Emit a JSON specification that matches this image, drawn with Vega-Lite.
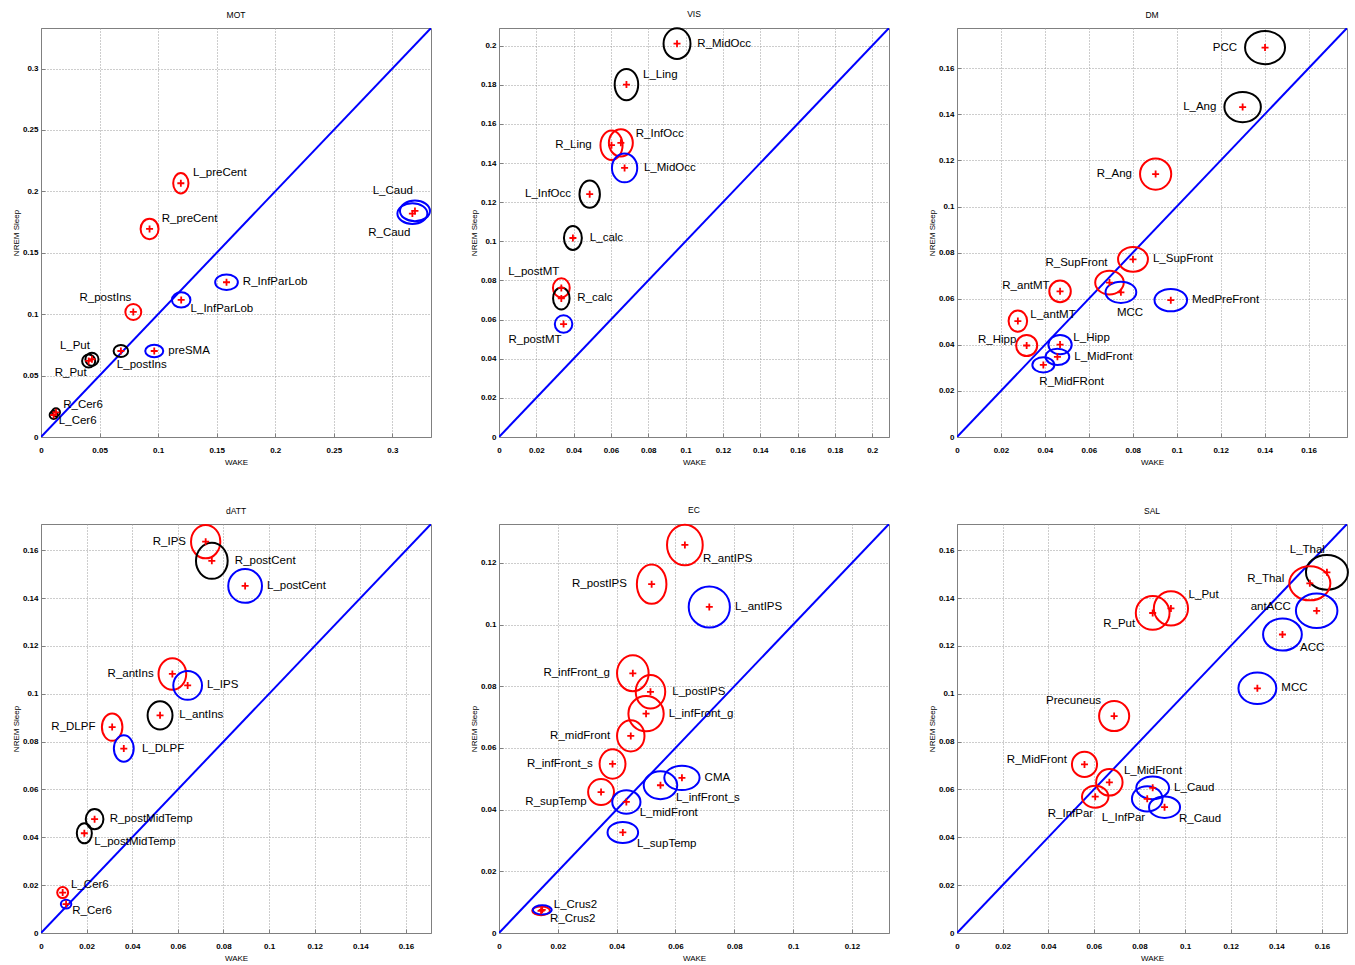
{
  "$schema": "https://vega.github.io/schema/vega-lite/v6.json",
  "background": "white",
  "padding": {"left": 11, "top": 9, "right": 5, "bottom": 5},
  "columns": 3,
  "spacing": {"row": 87, "column": 68},
  "bounds": "flush",
  "resolve": {"scale": {"size": "independent"}},
  "config": {
    "font": "Liberation Sans",
    "view": {"stroke": "#808080", "strokeWidth": 1},
    "axis": {"labelFontSize": 8, "labelFont": "Liberation Sans", "labelColor": "#000", "labelFontWeight": "bold", "titleFont": "Liberation Sans", "titleFontSize": 8, "titleFontWeight": "normal", "titleColor": "#000", "domainColor": "#808080", "tickColor": "#808080", "tickSize": -4, "gridColor": "#9a9a9a", "gridDash": [1, 2], "gridWidth": 1, "labelFlush": false, "format": ".2~f"},
    "axisX": {"labelPadding": 13, "titlePadding": 4},
    "axisY": {"labelPadding": 7, "titlePadding": 2},
    "title": {"fontSize": 8.5, "fontWeight": "normal", "color": "#000", "offset": 9, "font": "Liberation Sans", "frame": "group"},
    "text": {"font": "Liberation Sans", "fontSize": 11.5, "color": "#000", "baseline": "middle", "clip": true},
    "point": {"opacity": 1, "strokeJoin": "round", "strokeCap": "butt", "clip": true}
  },
  "concat": [
    {
      "title": "MOT", "width": 390, "height": 409,
      "data": {"values": [
        {"region": "L_preCent", "wake": 0.1194, "nrem": 0.2066, "r": 0.0087, "aspect": 0.75, "cluster": "1", "place": "NE"},
        {"region": "R_preCent", "wake": 0.0927, "nrem": 0.1694, "r": 0.0087, "aspect": 0.88, "cluster": "1", "place": "NE"},
        {"region": "R_postIns", "wake": 0.0788, "nrem": 0.1018, "r": 0.0068, "aspect": 1, "cluster": "1", "place": "NL"},
        {"region": "L_InfParLob", "wake": 0.1197, "nrem": 0.1116, "r": 0.0079, "aspect": 1.2, "cluster": "3", "place": "SE"},
        {"region": "R_InfParLob", "wake": 0.1584, "nrem": 0.1260, "r": 0.0097, "aspect": 1.45, "cluster": "3", "place": "E"},
        {"region": "preSMA", "wake": 0.0967, "nrem": 0.0700, "r": 0.0077, "aspect": 1.45, "cluster": "3", "place": "E"},
        {"region": "L_postIns", "wake": 0.0682, "nrem": 0.0700, "r": 0.0062, "aspect": 1.2, "cluster": "2", "place": "SR"},
        {"region": "L_Put", "wake": 0.0435, "nrem": 0.0633, "r": 0.0056, "aspect": 1, "cluster": "2", "place": "NL"},
        {"region": "R_Put", "wake": 0.0407, "nrem": 0.0619, "r": 0.0056, "aspect": 1, "cluster": "2", "place": "SL"},
        {"region": "R_Cer6", "wake": 0.0128, "nrem": 0.0201, "r": 0.0034, "aspect": 1, "cluster": "2", "place": "NE"},
        {"region": "L_Cer6", "wake": 0.0108, "nrem": 0.0179, "r": 0.0034, "aspect": 1, "cluster": "2", "place": "SE"},
        {"region": "L_Caud", "wake": 0.3193, "nrem": 0.1841, "r": 0.0128, "aspect": 1.45, "cluster": "3", "place": "NL"},
        {"region": "R_Caud", "wake": 0.3171, "nrem": 0.1819, "r": 0.0128, "aspect": 1.45, "cluster": "3", "place": "SL"}
      ]},
      "encoding": {
        "x": {"field": "wake", "type": "quantitative", "scale": {"domain": [0, 0.333], "nice": false}, "axis": {"title": "WAKE", "values": [0, 0.05, 0.1, 0.15, 0.2, 0.25, 0.3]}},
        "y": {"field": "nrem", "type": "quantitative", "scale": {"domain": [0, 0.333], "nice": false}, "axis": {"title": "NREM Sleep", "values": [0, 0.05, 0.1, 0.15, 0.2, 0.25, 0.3]}}
      },
      "layer": [
        {"data": {"values": [{"wake": 0, "nrem": 0}, {"wake": 0.333, "nrem": 0.333}]}, "mark": {"type": "line", "color": "#0000ff", "strokeWidth": 2, "clip": true}},
        {"mark": {"type": "point", "filled": false, "strokeWidth": 2},
         "encoding": {
           "color": {"field": "cluster", "type": "nominal", "scale": {"domain": ["1", "2", "3"], "range": ["#ff0000", "#000000", "#0000ff"]}, "legend": null},
           "size": {"field": "r", "type": "quantitative", "scale": {"type": "pow", "exponent": 2, "domain": [0, 0.0333], "range": [0, 6084]}, "legend": null},
           "shape": {"field": "aspect", "type": "nominal", "scale": {"domain": [0.75, 0.88, 1, 1.2, 1.45, 2], "range": ["M-0.75,0A0.75,1,0,1,0,0.75,0A0.75,1,0,1,0,-0.75,0Z", "M-0.88,0A0.88,1,0,1,0,0.88,0A0.88,1,0,1,0,-0.88,0Z", "circle", "M-1,0A1,0.83,0,1,0,1,0A1,0.83,0,1,0,-1,0Z", "M-1,0A1,0.69,0,1,0,1,0A1,0.69,0,1,0,-1,0Z", "M-1,0A1,0.5,0,1,0,1,0A1,0.5,0,1,0,-1,0Z"]}, "legend": null}
         }},
        {"mark": {"type": "point", "shape": "M-1,0L1,0M0,-1L0,1", "size": 49, "filled": false, "color": "#ff0000", "strokeWidth": 1.8}},
        {"transform": [{"filter": "datum.place === 'E'"}], "mark": {"type": "text", "align": "left", "dx": {"expr": "5 + datum.r * 1171"}}, "encoding": {"text": {"field": "region"}}},
        {"transform": [{"filter": "datum.place === 'NE'"}], "mark": {"type": "text", "align": "left", "dx": {"expr": "4 + 0.8 * datum.r * 1171"}, "dy": {"expr": "-5 - 0.5 * datum.r * 1171"}}, "encoding": {"text": {"field": "region"}}},
        {"transform": [{"filter": "datum.place === 'NL'"}], "mark": {"type": "text", "align": "right", "dx": -2, "dy": {"expr": "-8 - 0.8 * datum.r * 1171"}}, "encoding": {"text": {"field": "region"}}},
        {"transform": [{"filter": "datum.place === 'SL'"}], "mark": {"type": "text", "align": "right", "dx": -2, "dy": {"expr": "7 + 0.8 * datum.r * 1171"}}, "encoding": {"text": {"field": "region"}}},
        {"transform": [{"filter": "datum.place === 'SE'"}], "mark": {"type": "text", "align": "left", "dx": {"expr": "2 + 0.8 * datum.r * 1171"}, "dy": {"expr": "4 + 0.5 * datum.r * 1171"}}, "encoding": {"text": {"field": "region"}}},
        {"transform": [{"filter": "datum.place === 'SR'"}], "mark": {"type": "text", "align": "left", "dx": -4, "dy": {"expr": "8 + 0.8 * datum.r * 1171"}}, "encoding": {"text": {"field": "region"}}}
      ]
    },
    {
      "title": "VIS", "width": 390, "height": 409,
      "data": {"values": [
        {"region": "R_MidOcc", "wake": 0.0954, "nrem": 0.2010, "r": 0.0082, "aspect": 0.88, "cluster": "2", "place": "E"},
        {"region": "L_Ling", "wake": 0.0683, "nrem": 0.1801, "r": 0.0084, "aspect": 0.75, "cluster": "2", "place": "NE"},
        {"region": "R_Ling", "wake": 0.0603, "nrem": 0.1491, "r": 0.0079, "aspect": 0.75, "cluster": "1", "place": "W"},
        {"region": "R_InfOcc", "wake": 0.0653, "nrem": 0.1503, "r": 0.0073, "aspect": 0.88, "cluster": "1", "place": "NE"},
        {"region": "L_MidOcc", "wake": 0.0673, "nrem": 0.1375, "r": 0.0077, "aspect": 0.88, "cluster": "3", "place": "E"},
        {"region": "L_InfOcc", "wake": 0.0486, "nrem": 0.1241, "r": 0.0073, "aspect": 0.75, "cluster": "2", "place": "W"},
        {"region": "L_calc", "wake": 0.0396, "nrem": 0.1017, "r": 0.0064, "aspect": 0.75, "cluster": "2", "place": "E"},
        {"region": "L_postMT", "wake": 0.0334, "nrem": 0.0762, "r": 0.0051, "aspect": 0.88, "cluster": "1", "place": "NL"},
        {"region": "R_calc", "wake": 0.0334, "nrem": 0.0708, "r": 0.0059, "aspect": 0.75, "cluster": "2", "place": "E"},
        {"region": "R_postMT", "wake": 0.0346, "nrem": 0.0577, "r": 0.0047, "aspect": 1, "cluster": "3", "place": "SL"}
      ]},
      "encoding": {
        "x": {"field": "wake", "type": "quantitative", "scale": {"domain": [0, 0.209], "nice": false}, "axis": {"title": "WAKE", "values": [0, 0.02, 0.04, 0.06, 0.08, 0.1, 0.12, 0.14, 0.16, 0.18, 0.2]}},
        "y": {"field": "nrem", "type": "quantitative", "scale": {"domain": [0, 0.209], "nice": false}, "axis": {"title": "NREM Sleep", "values": [0, 0.02, 0.04, 0.06, 0.08, 0.1, 0.12, 0.14, 0.16, 0.18, 0.2]}}
      },
      "layer": [
        {"data": {"values": [{"wake": 0, "nrem": 0}, {"wake": 0.209, "nrem": 0.209}]}, "mark": {"type": "line", "color": "#0000ff", "strokeWidth": 2, "clip": true}},
        {"mark": {"type": "point", "filled": false, "strokeWidth": 2},
         "encoding": {
           "color": {"field": "cluster", "type": "nominal", "scale": {"domain": ["1", "2", "3"], "range": ["#ff0000", "#000000", "#0000ff"]}, "legend": null},
           "size": {"field": "r", "type": "quantitative", "scale": {"type": "pow", "exponent": 2, "domain": [0, 0.0209], "range": [0, 6084]}, "legend": null},
           "shape": {"field": "aspect", "type": "nominal", "scale": {"domain": [0.75, 0.88, 1, 1.2, 1.45, 2], "range": ["M-0.75,0A0.75,1,0,1,0,0.75,0A0.75,1,0,1,0,-0.75,0Z", "M-0.88,0A0.88,1,0,1,0,0.88,0A0.88,1,0,1,0,-0.88,0Z", "circle", "M-1,0A1,0.83,0,1,0,1,0A1,0.83,0,1,0,-1,0Z", "M-1,0A1,0.69,0,1,0,1,0A1,0.69,0,1,0,-1,0Z", "M-1,0A1,0.5,0,1,0,1,0A1,0.5,0,1,0,-1,0Z"]}, "legend": null}
         }},
        {"mark": {"type": "point", "shape": "M-1,0L1,0M0,-1L0,1", "size": 49, "filled": false, "color": "#ff0000", "strokeWidth": 1.8}},
        {"transform": [{"filter": "datum.place === 'E'"}], "mark": {"type": "text", "align": "left", "dx": {"expr": "5 + datum.r * 1866"}}, "encoding": {"text": {"field": "region"}}},
        {"transform": [{"filter": "datum.place === 'W'"}], "mark": {"type": "text", "align": "right", "dx": {"expr": "-5 - datum.r * 1866"}}, "encoding": {"text": {"field": "region"}}},
        {"transform": [{"filter": "datum.place === 'NE'"}], "mark": {"type": "text", "align": "left", "dx": {"expr": "4 + 0.8 * datum.r * 1866"}, "dy": {"expr": "-3 - 0.4 * datum.r * 1866"}}, "encoding": {"text": {"field": "region"}}},
        {"transform": [{"filter": "datum.place === 'NL'"}], "mark": {"type": "text", "align": "right", "dx": -2, "dy": {"expr": "-8 - 0.8 * datum.r * 1866"}}, "encoding": {"text": {"field": "region"}}},
        {"transform": [{"filter": "datum.place === 'SL'"}], "mark": {"type": "text", "align": "right", "dx": -2, "dy": {"expr": "9 + 0.8 * datum.r * 1866"}}, "encoding": {"text": {"field": "region"}}}
      ]
    },
    {
      "title": "DM", "width": 390, "height": 409,
      "data": {"values": [
        {"region": "PCC", "wake": 0.1402, "nrem": 0.1690, "r": 0.0091, "aspect": 1.2, "cluster": "2", "place": "W"},
        {"region": "L_Ang", "wake": 0.1300, "nrem": 0.1432, "r": 0.0083, "aspect": 1.2, "cluster": "2", "place": "W"},
        {"region": "R_Ang", "wake": 0.0904, "nrem": 0.1141, "r": 0.0071, "aspect": 1, "cluster": "1", "place": "W"},
        {"region": "L_SupFront", "wake": 0.0801, "nrem": 0.0771, "r": 0.0068, "aspect": 1.2, "cluster": "1", "place": "E"},
        {"region": "R_SupFront", "wake": 0.0694, "nrem": 0.0670, "r": 0.0065, "aspect": 1.2, "cluster": "1", "place": "NL"},
        {"region": "MCC", "wake": 0.0746, "nrem": 0.0628, "r": 0.0070, "aspect": 1.45, "cluster": "3", "place": "SR"},
        {"region": "R_antMT", "wake": 0.0469, "nrem": 0.0632, "r": 0.0049, "aspect": 1, "cluster": "1", "place": "NW"},
        {"region": "MedPreFront", "wake": 0.0973, "nrem": 0.0594, "r": 0.0074, "aspect": 1.45, "cluster": "3", "place": "E"},
        {"region": "L_antMT", "wake": 0.0277, "nrem": 0.0503, "r": 0.0048, "aspect": 0.88, "cluster": "1", "place": "NE"},
        {"region": "R_Hipp", "wake": 0.0317, "nrem": 0.0397, "r": 0.0048, "aspect": 1, "cluster": "1", "place": "NW"},
        {"region": "L_Hipp", "wake": 0.0469, "nrem": 0.0401, "r": 0.0053, "aspect": 1.2, "cluster": "3", "place": "NE"},
        {"region": "L_MidFront", "wake": 0.0457, "nrem": 0.0348, "r": 0.0054, "aspect": 1.45, "cluster": "3", "place": "E"},
        {"region": "R_MidFRont", "wake": 0.0393, "nrem": 0.0313, "r": 0.0050, "aspect": 1.45, "cluster": "3", "place": "SR"}
      ]},
      "encoding": {
        "x": {"field": "wake", "type": "quantitative", "scale": {"domain": [0, 0.1775], "nice": false}, "axis": {"title": "WAKE", "values": [0, 0.02, 0.04, 0.06, 0.08, 0.1, 0.12, 0.14, 0.16]}},
        "y": {"field": "nrem", "type": "quantitative", "scale": {"domain": [0, 0.1775], "nice": false}, "axis": {"title": "NREM Sleep", "values": [0, 0.02, 0.04, 0.06, 0.08, 0.1, 0.12, 0.14, 0.16]}}
      },
      "layer": [
        {"data": {"values": [{"wake": 0, "nrem": 0}, {"wake": 0.1775, "nrem": 0.1775}]}, "mark": {"type": "line", "color": "#0000ff", "strokeWidth": 2, "clip": true}},
        {"mark": {"type": "point", "filled": false, "strokeWidth": 2},
         "encoding": {
           "color": {"field": "cluster", "type": "nominal", "scale": {"domain": ["1", "2", "3"], "range": ["#ff0000", "#000000", "#0000ff"]}, "legend": null},
           "size": {"field": "r", "type": "quantitative", "scale": {"type": "pow", "exponent": 2, "domain": [0, 0.01775], "range": [0, 6084]}, "legend": null},
           "shape": {"field": "aspect", "type": "nominal", "scale": {"domain": [0.75, 0.88, 1, 1.2, 1.45, 2], "range": ["M-0.75,0A0.75,1,0,1,0,0.75,0A0.75,1,0,1,0,-0.75,0Z", "M-0.88,0A0.88,1,0,1,0,0.88,0A0.88,1,0,1,0,-0.88,0Z", "circle", "M-1,0A1,0.83,0,1,0,1,0A1,0.83,0,1,0,-1,0Z", "M-1,0A1,0.69,0,1,0,1,0A1,0.69,0,1,0,-1,0Z", "M-1,0A1,0.5,0,1,0,1,0A1,0.5,0,1,0,-1,0Z"]}, "legend": null}
         }},
        {"mark": {"type": "point", "shape": "M-1,0L1,0M0,-1L0,1", "size": 49, "filled": false, "color": "#ff0000", "strokeWidth": 1.8}},
        {"transform": [{"filter": "datum.place === 'E'"}], "mark": {"type": "text", "align": "left", "dx": {"expr": "5 + datum.r * 2197"}}, "encoding": {"text": {"field": "region"}}},
        {"transform": [{"filter": "datum.place === 'W'"}], "mark": {"type": "text", "align": "right", "dx": {"expr": "-8 - datum.r * 2197"}}, "encoding": {"text": {"field": "region"}}},
        {"transform": [{"filter": "datum.place === 'NE'"}], "mark": {"type": "text", "align": "left", "dx": {"expr": "4 + 0.8 * datum.r * 2197"}, "dy": {"expr": "-2 - 0.4 * datum.r * 2197"}}, "encoding": {"text": {"field": "region"}}},
        {"transform": [{"filter": "datum.place === 'NW'"}], "mark": {"type": "text", "align": "right", "dx": {"expr": "-4 - 0.6 * datum.r * 2197"}, "dy": {"expr": "-1 - 0.4 * datum.r * 2197"}}, "encoding": {"text": {"field": "region"}}},
        {"transform": [{"filter": "datum.place === 'NL'"}], "mark": {"type": "text", "align": "right", "dx": -2, "dy": {"expr": "-8 - 0.8 * datum.r * 2197"}}, "encoding": {"text": {"field": "region"}}},
        {"transform": [{"filter": "datum.place === 'SR'"}], "mark": {"type": "text", "align": "left", "dx": -4, "dy": {"expr": "8 + 0.8 * datum.r * 2197"}}, "encoding": {"text": {"field": "region"}}}
      ]
    },
    {
      "title": "dATT", "width": 390, "height": 409,
      "data": {"values": [
        {"region": "R_IPS", "wake": 0.0722, "nrem": 0.1636, "r": 0.0073, "aspect": 0.88, "cluster": "1", "place": "W"},
        {"region": "R_postCent", "wake": 0.0749, "nrem": 0.1556, "r": 0.0079, "aspect": 0.88, "cluster": "2", "place": "E"},
        {"region": "L_postCent", "wake": 0.0895, "nrem": 0.1451, "r": 0.0074, "aspect": 1, "cluster": "3", "place": "E"},
        {"region": "R_antIns", "wake": 0.0576, "nrem": 0.1083, "r": 0.0069, "aspect": 0.88, "cluster": "1", "place": "W"},
        {"region": "L_IPS", "wake": 0.0643, "nrem": 0.1035, "r": 0.0063, "aspect": 1, "cluster": "3", "place": "E"},
        {"region": "L_antIns", "wake": 0.0522, "nrem": 0.0910, "r": 0.0062, "aspect": 0.88, "cluster": "2", "place": "E"},
        {"region": "R_DLPF", "wake": 0.0312, "nrem": 0.0861, "r": 0.0060, "aspect": 0.75, "cluster": "1", "place": "W"},
        {"region": "L_DLPF", "wake": 0.0363, "nrem": 0.0771, "r": 0.0058, "aspect": 0.75, "cluster": "3", "place": "E"},
        {"region": "R_postMidTemp", "wake": 0.0235, "nrem": 0.0476, "r": 0.0044, "aspect": 0.88, "cluster": "2", "place": "E"},
        {"region": "L_postMidTemp", "wake": 0.0190, "nrem": 0.0417, "r": 0.0044, "aspect": 0.75, "cluster": "2", "place": "SE"},
        {"region": "L_Cer6", "wake": 0.0095, "nrem": 0.0169, "r": 0.0024, "aspect": 1, "cluster": "1", "place": "NE"},
        {"region": "R_Cer6", "wake": 0.0110, "nrem": 0.0121, "r": 0.0023, "aspect": 1.2, "cluster": "3", "place": "SE"}
      ]},
      "encoding": {
        "x": {"field": "wake", "type": "quantitative", "scale": {"domain": [0, 0.171], "nice": false}, "axis": {"title": "WAKE", "values": [0, 0.02, 0.04, 0.06, 0.08, 0.1, 0.12, 0.14, 0.16]}},
        "y": {"field": "nrem", "type": "quantitative", "scale": {"domain": [0, 0.171], "nice": false}, "axis": {"title": "NREM Sleep", "values": [0, 0.02, 0.04, 0.06, 0.08, 0.1, 0.12, 0.14, 0.16]}}
      },
      "layer": [
        {"data": {"values": [{"wake": 0, "nrem": 0}, {"wake": 0.171, "nrem": 0.171}]}, "mark": {"type": "line", "color": "#0000ff", "strokeWidth": 2, "clip": true}},
        {"mark": {"type": "point", "filled": false, "strokeWidth": 2},
         "encoding": {
           "color": {"field": "cluster", "type": "nominal", "scale": {"domain": ["1", "2", "3"], "range": ["#ff0000", "#000000", "#0000ff"]}, "legend": null},
           "size": {"field": "r", "type": "quantitative", "scale": {"type": "pow", "exponent": 2, "domain": [0, 0.0171], "range": [0, 6084]}, "legend": null},
           "shape": {"field": "aspect", "type": "nominal", "scale": {"domain": [0.75, 0.88, 1, 1.2, 1.45, 2], "range": ["M-0.75,0A0.75,1,0,1,0,0.75,0A0.75,1,0,1,0,-0.75,0Z", "M-0.88,0A0.88,1,0,1,0,0.88,0A0.88,1,0,1,0,-0.88,0Z", "circle", "M-1,0A1,0.83,0,1,0,1,0A1,0.83,0,1,0,-1,0Z", "M-1,0A1,0.69,0,1,0,1,0A1,0.69,0,1,0,-1,0Z", "M-1,0A1,0.5,0,1,0,1,0A1,0.5,0,1,0,-1,0Z"]}, "legend": null}
         }},
        {"mark": {"type": "point", "shape": "M-1,0L1,0M0,-1L0,1", "size": 49, "filled": false, "color": "#ff0000", "strokeWidth": 1.8}},
        {"transform": [{"filter": "datum.place === 'E'"}], "mark": {"type": "text", "align": "left", "dx": {"expr": "5 + datum.r * 2281"}}, "encoding": {"text": {"field": "region"}}},
        {"transform": [{"filter": "datum.place === 'W'"}], "mark": {"type": "text", "align": "right", "dx": {"expr": "-3 - datum.r * 2281"}}, "encoding": {"text": {"field": "region"}}},
        {"transform": [{"filter": "datum.place === 'NE'"}], "mark": {"type": "text", "align": "left", "dx": {"expr": "4 + 0.8 * datum.r * 2281"}, "dy": {"expr": "-5 - 0.5 * datum.r * 2281"}}, "encoding": {"text": {"field": "region"}}},
        {"transform": [{"filter": "datum.place === 'SE'"}], "mark": {"type": "text", "align": "left", "dx": {"expr": "2 + 0.8 * datum.r * 2281"}, "dy": {"expr": "4 + 0.5 * datum.r * 2281"}}, "encoding": {"text": {"field": "region"}}}
      ]
    },
    {
      "title": "EC", "width": 390, "height": 409,
      "data": {"values": [
        {"region": "R_antIPS", "wake": 0.0632, "nrem": 0.1258, "r": 0.0069, "aspect": 0.88, "cluster": "1", "place": "SE"},
        {"region": "R_postIPS", "wake": 0.0519, "nrem": 0.1131, "r": 0.0067, "aspect": 0.75, "cluster": "1", "place": "W"},
        {"region": "L_antIPS", "wake": 0.0715, "nrem": 0.1057, "r": 0.0070, "aspect": 1, "cluster": "3", "place": "E"},
        {"region": "R_infFront_g", "wake": 0.0455, "nrem": 0.0842, "r": 0.0061, "aspect": 0.88, "cluster": "1", "place": "W"},
        {"region": "L_postIPS", "wake": 0.0515, "nrem": 0.0782, "r": 0.0057, "aspect": 0.88, "cluster": "1", "place": "E"},
        {"region": "L_infFront_g", "wake": 0.0500, "nrem": 0.0711, "r": 0.0060, "aspect": 1, "cluster": "1", "place": "E"},
        {"region": "R_midFront", "wake": 0.0448, "nrem": 0.0639, "r": 0.0053, "aspect": 0.88, "cluster": "1", "place": "W"},
        {"region": "R_infFront_s", "wake": 0.0386, "nrem": 0.0548, "r": 0.0050, "aspect": 0.88, "cluster": "1", "place": "W"},
        {"region": "CMA", "wake": 0.0622, "nrem": 0.0503, "r": 0.0060, "aspect": 1.45, "cluster": "3", "place": "E"},
        {"region": "L_infFront_s", "wake": 0.0549, "nrem": 0.0479, "r": 0.0057, "aspect": 1.2, "cluster": "3", "place": "SE"},
        {"region": "R_supTemp", "wake": 0.0347, "nrem": 0.0457, "r": 0.0044, "aspect": 1, "cluster": "1", "place": "SW"},
        {"region": "L_midFront", "wake": 0.0433, "nrem": 0.0425, "r": 0.0048, "aspect": 1.2, "cluster": "3", "place": "SE"},
        {"region": "L_supTemp", "wake": 0.0421, "nrem": 0.0326, "r": 0.0052, "aspect": 1.45, "cluster": "3", "place": "SE"},
        {"region": "R_Crus2", "wake": 0.0143, "nrem": 0.0072, "r": 0.0030, "aspect": 2, "cluster": "1", "place": "SE"},
        {"region": "L_Crus2", "wake": 0.0147, "nrem": 0.0075, "r": 0.0032, "aspect": 2, "cluster": "3", "place": "NE"}
      ]},
      "encoding": {
        "x": {"field": "wake", "type": "quantitative", "scale": {"domain": [0, 0.1326], "nice": false}, "axis": {"title": "WAKE", "values": [0, 0.02, 0.04, 0.06, 0.08, 0.1, 0.12]}},
        "y": {"field": "nrem", "type": "quantitative", "scale": {"domain": [0, 0.1326], "nice": false}, "axis": {"title": "NREM Sleep", "values": [0, 0.02, 0.04, 0.06, 0.08, 0.1, 0.12]}}
      },
      "layer": [
        {"data": {"values": [{"wake": 0, "nrem": 0}, {"wake": 0.1326, "nrem": 0.1326}]}, "mark": {"type": "line", "color": "#0000ff", "strokeWidth": 2, "clip": true}},
        {"mark": {"type": "point", "filled": false, "strokeWidth": 2},
         "encoding": {
           "color": {"field": "cluster", "type": "nominal", "scale": {"domain": ["1", "2", "3"], "range": ["#ff0000", "#000000", "#0000ff"]}, "legend": null},
           "size": {"field": "r", "type": "quantitative", "scale": {"type": "pow", "exponent": 2, "domain": [0, 0.01326], "range": [0, 6084]}, "legend": null},
           "shape": {"field": "aspect", "type": "nominal", "scale": {"domain": [0.75, 0.88, 1, 1.2, 1.45, 2], "range": ["M-0.75,0A0.75,1,0,1,0,0.75,0A0.75,1,0,1,0,-0.75,0Z", "M-0.88,0A0.88,1,0,1,0,0.88,0A0.88,1,0,1,0,-0.88,0Z", "circle", "M-1,0A1,0.83,0,1,0,1,0A1,0.83,0,1,0,-1,0Z", "M-1,0A1,0.69,0,1,0,1,0A1,0.69,0,1,0,-1,0Z", "M-1,0A1,0.5,0,1,0,1,0A1,0.5,0,1,0,-1,0Z"]}, "legend": null}
         }},
        {"mark": {"type": "point", "shape": "M-1,0L1,0M0,-1L0,1", "size": 49, "filled": false, "color": "#ff0000", "strokeWidth": 1.8}},
        {"transform": [{"filter": "datum.place === 'E'"}], "mark": {"type": "text", "align": "left", "dx": {"expr": "5 + datum.r * 2941"}}, "encoding": {"text": {"field": "region"}}},
        {"transform": [{"filter": "datum.place === 'W'"}], "mark": {"type": "text", "align": "right", "dx": {"expr": "-5 - datum.r * 2941"}}, "encoding": {"text": {"field": "region"}}},
        {"transform": [{"filter": "datum.place === 'NE'"}], "mark": {"type": "text", "align": "left", "dx": {"expr": "4 + 0.8 * datum.r * 2941"}, "dy": {"expr": "-1 - 0.4 * datum.r * 2941"}}, "encoding": {"text": {"field": "region"}}},
        {"transform": [{"filter": "datum.place === 'SW'"}], "mark": {"type": "text", "align": "right", "dx": {"expr": "-4 - 0.8 * datum.r * 2941"}, "dy": {"expr": "3 + 0.5 * datum.r * 2941"}}, "encoding": {"text": {"field": "region"}}},
        {"transform": [{"filter": "datum.place === 'SE'"}], "mark": {"type": "text", "align": "left", "dx": {"expr": "2 + 0.8 * datum.r * 2941"}, "dy": {"expr": "4 + 0.5 * datum.r * 2941"}}, "encoding": {"text": {"field": "region"}}}
      ]
    },
    {
      "title": "SAL", "width": 390, "height": 409,
      "data": {"values": [
        {"region": "L_Thal", "wake": 0.1622, "nrem": 0.1508, "r": 0.0092, "aspect": 1.2, "cluster": "2", "place": "NL"},
        {"region": "R_Thal", "wake": 0.1547, "nrem": 0.1462, "r": 0.0090, "aspect": 1.2, "cluster": "1", "place": "W"},
        {"region": "antACC", "wake": 0.1577, "nrem": 0.1347, "r": 0.0091, "aspect": 1.2, "cluster": "3", "place": "W"},
        {"region": "L_Put", "wake": 0.0938, "nrem": 0.1357, "r": 0.0075, "aspect": 1, "cluster": "1", "place": "NE"},
        {"region": "R_Put", "wake": 0.0858, "nrem": 0.1338, "r": 0.0074, "aspect": 1, "cluster": "1", "place": "SW"},
        {"region": "ACC", "wake": 0.1427, "nrem": 0.1248, "r": 0.0085, "aspect": 1.2, "cluster": "3", "place": "SE"},
        {"region": "MCC", "wake": 0.1317, "nrem": 0.1023, "r": 0.0083, "aspect": 1.2, "cluster": "3", "place": "E"},
        {"region": "Precuneus", "wake": 0.0689, "nrem": 0.0907, "r": 0.0066, "aspect": 1, "cluster": "1", "place": "NW"},
        {"region": "R_MidFront", "wake": 0.0559, "nrem": 0.0705, "r": 0.0055, "aspect": 1, "cluster": "1", "place": "W"},
        {"region": "L_MidFront", "wake": 0.0668, "nrem": 0.0630, "r": 0.0058, "aspect": 1, "cluster": "1", "place": "NE"},
        {"region": "R_InfPar", "wake": 0.0606, "nrem": 0.0570, "r": 0.0058, "aspect": 1.2, "cluster": "1", "place": "SL"},
        {"region": "L_Caud", "wake": 0.0858, "nrem": 0.0607, "r": 0.0072, "aspect": 1.45, "cluster": "3", "place": "E"},
        {"region": "L_InfPar", "wake": 0.0834, "nrem": 0.0561, "r": 0.0067, "aspect": 1.2, "cluster": "3", "place": "SL"},
        {"region": "R_Caud", "wake": 0.0910, "nrem": 0.0526, "r": 0.0068, "aspect": 1.45, "cluster": "3", "place": "SE"}
      ]},
      "encoding": {
        "x": {"field": "wake", "type": "quantitative", "scale": {"domain": [0, 0.171], "nice": false}, "axis": {"title": "WAKE", "values": [0, 0.02, 0.04, 0.06, 0.08, 0.1, 0.12, 0.14, 0.16]}},
        "y": {"field": "nrem", "type": "quantitative", "scale": {"domain": [0, 0.171], "nice": false}, "axis": {"title": "NREM Sleep", "values": [0, 0.02, 0.04, 0.06, 0.08, 0.1, 0.12, 0.14, 0.16]}}
      },
      "layer": [
        {"data": {"values": [{"wake": 0, "nrem": 0}, {"wake": 0.171, "nrem": 0.171}]}, "mark": {"type": "line", "color": "#0000ff", "strokeWidth": 2, "clip": true}},
        {"mark": {"type": "point", "filled": false, "strokeWidth": 2},
         "encoding": {
           "color": {"field": "cluster", "type": "nominal", "scale": {"domain": ["1", "2", "3"], "range": ["#ff0000", "#000000", "#0000ff"]}, "legend": null},
           "size": {"field": "r", "type": "quantitative", "scale": {"type": "pow", "exponent": 2, "domain": [0, 0.0171], "range": [0, 6084]}, "legend": null},
           "shape": {"field": "aspect", "type": "nominal", "scale": {"domain": [0.75, 0.88, 1, 1.2, 1.45, 2], "range": ["M-0.75,0A0.75,1,0,1,0,0.75,0A0.75,1,0,1,0,-0.75,0Z", "M-0.88,0A0.88,1,0,1,0,0.88,0A0.88,1,0,1,0,-0.88,0Z", "circle", "M-1,0A1,0.83,0,1,0,1,0A1,0.83,0,1,0,-1,0Z", "M-1,0A1,0.69,0,1,0,1,0A1,0.69,0,1,0,-1,0Z", "M-1,0A1,0.5,0,1,0,1,0A1,0.5,0,1,0,-1,0Z"]}, "legend": null}
         }},
        {"mark": {"type": "point", "shape": "M-1,0L1,0M0,-1L0,1", "size": 49, "filled": false, "color": "#ff0000", "strokeWidth": 1.8}},
        {"transform": [{"filter": "datum.place === 'E'"}], "mark": {"type": "text", "align": "left", "dx": {"expr": "5 + datum.r * 2281"}}, "encoding": {"text": {"field": "region"}}},
        {"transform": [{"filter": "datum.place === 'W'"}], "mark": {"type": "text", "align": "right", "dx": {"expr": "-5 - datum.r * 2281"}, "dy": -4}, "encoding": {"text": {"field": "region"}}},
        {"transform": [{"filter": "datum.place === 'NE'"}], "mark": {"type": "text", "align": "left", "dx": {"expr": "4 + 0.8 * datum.r * 2281"}, "dy": {"expr": "-5 - 0.5 * datum.r * 2281"}}, "encoding": {"text": {"field": "region"}}},
        {"transform": [{"filter": "datum.place === 'NW'"}], "mark": {"type": "text", "align": "right", "dx": {"expr": "-4 - 0.6 * datum.r * 2281"}, "dy": {"expr": "-5 - 0.7 * datum.r * 2281"}}, "encoding": {"text": {"field": "region"}}},
        {"transform": [{"filter": "datum.place === 'NL'"}], "mark": {"type": "text", "align": "right", "dx": -2, "dy": {"expr": "-6 - 0.8 * datum.r * 2281"}}, "encoding": {"text": {"field": "region"}}},
        {"transform": [{"filter": "datum.place === 'SL'"}], "mark": {"type": "text", "align": "right", "dx": -2, "dy": {"expr": "7 + 0.8 * datum.r * 2281"}}, "encoding": {"text": {"field": "region"}}},
        {"transform": [{"filter": "datum.place === 'SW'"}], "mark": {"type": "text", "align": "right", "dx": {"expr": "-4 - 0.8 * datum.r * 2281"}, "dy": {"expr": "3 + 0.5 * datum.r * 2281"}}, "encoding": {"text": {"field": "region"}}},
        {"transform": [{"filter": "datum.place === 'SE'"}], "mark": {"type": "text", "align": "left", "dx": {"expr": "2 + 0.8 * datum.r * 2281"}, "dy": {"expr": "4 + 0.5 * datum.r * 2281"}}, "encoding": {"text": {"field": "region"}}}
      ]
    }
  ]
}
